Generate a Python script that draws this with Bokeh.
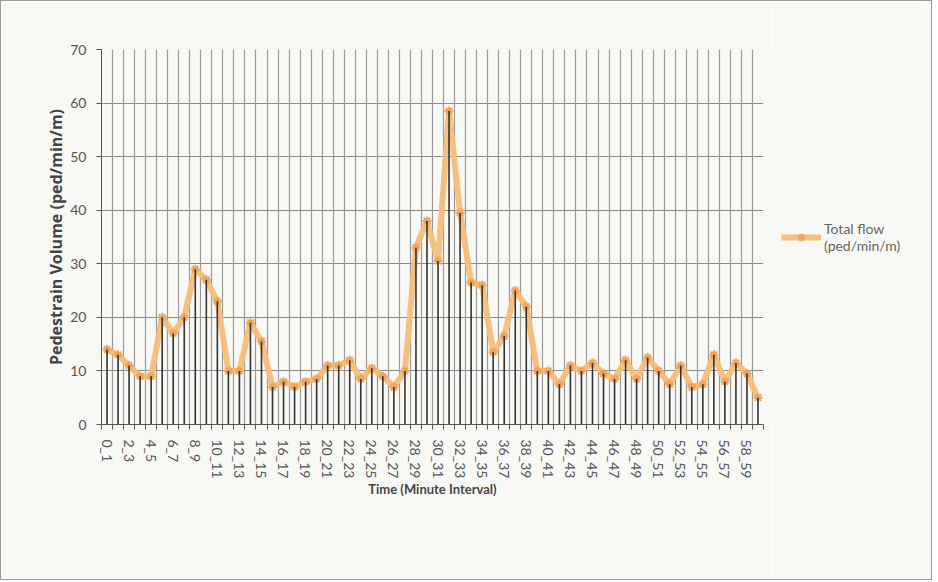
from bokeh.plotting import figure
from bokeh.layouts import row
from bokeh.models import FixedTicker, Grid, Legend, LegendItem, ColumnDataSource
from bokeh.embed import file_html
from bokeh.resources import INLINE

categories = [f"{i}_{i+1}" for i in range(60)]
flow = [14, 13, 11, 9, 9, 20, 17, 20, 29, 27,
        23, 10, 10, 19, 15.5, 7, 8, 7, 8, 8.5,
        11, 11, 12, 8.5, 10.5, 9, 7, 10, 33, 38,
        30.5, 58.5, 39.5, 26.5, 26, 13.5, 16.5, 25, 22, 10,
        10, 7.5, 11, 10, 11.5, 9.5, 8.5, 12, 8.5, 12.5,
        10, 7.5, 11, 7, 7.5, 13, 8, 11.5, 9.5, 5]
y_ticks = [0, 10, 20, 30, 40, 50, 60, 70]
series_name = "Total flow\n(ped/min/m)"

idx = list(range(len(categories)))
zeros = [0] * len(categories)
src = ColumnDataSource(dict(x=idx, y=flow, y0=zeros))

BG = "#f8f8f5"
FONT = "Lato"
LINE_COLOR = "#f6bd78"
MARK_COLOR = "#eea45a"

p = figure(width=770, height=578, output_backend="svg", toolbar_location=None,
           x_range=(-0.5, len(categories) - 0.5), y_range=(0, 70),
           min_border_left=100, min_border_right=8, min_border_top=48, min_border_bottom=155,
           background_fill_color=BG, border_fill_color=BG)
p.outline_line_color = None

# axes
p.xaxis.ticker = FixedTicker(ticks=idx[::2], minor_ticks=[i - 0.5 for i in idx] + [len(idx) - 0.5])
p.xaxis.major_label_overrides = {i: categories[i] for i in idx[::2]}
p.xaxis.major_label_orientation = "vertical"
p.xaxis.major_tick_line_color = None
p.xaxis.major_tick_out = 5
p.xaxis.minor_tick_out = 5
p.xaxis.minor_tick_in = 0
p.xaxis.minor_tick_line_color = "#555555"
p.xaxis.axis_line_color = "#555555"
p.xaxis.major_label_standoff = 10
p.xaxis.major_label_text_font = FONT
p.xaxis.major_label_text_font_size = "14px"
p.xaxis.major_label_text_color = "#555555"
p.xaxis.axis_label = "Time (Minute Interval)"
p.xaxis.axis_label_text_font = FONT
p.xaxis.axis_label_text_font_style = "bold"
p.xaxis.axis_label_text_font_size = "13px"
p.xaxis.axis_label_text_color = "#444444"
p.xaxis.axis_label_standoff = 0

p.yaxis.ticker = FixedTicker(ticks=y_ticks)
p.yaxis.minor_tick_line_color = None
p.yaxis.major_tick_out = 5
p.yaxis.major_tick_in = 0
p.yaxis.major_tick_line_color = "#555555"
p.yaxis.axis_line_color = "#555555"
p.yaxis.major_label_standoff = 10
p.yaxis.major_label_text_font = FONT
p.yaxis.major_label_text_font_size = "14px"
p.yaxis.major_label_text_color = "#555555"
p.yaxis.axis_label = "Pedestrain Volume (ped/min/m)"
p.yaxis.axis_label_text_font = "Open Sans"
p.yaxis.axis_label_text_font_style = "bold"
p.yaxis.axis_label_text_font_size = "16px"
p.yaxis.axis_label_text_color = "#444444"
p.yaxis.axis_label_standoff = 0

# grids
p.xgrid.visible = False
p.ygrid.grid_line_color = "#8a8a8a"
p.ygrid.grid_line_width = 1.2
vgrid = Grid(dimension=0, ticker=FixedTicker(ticks=[i - 0.5 for i in idx] + [len(idx) - 0.5]),
             grid_line_color="#9a9a9a", grid_line_width=1.2)
p.add_layout(vgrid)

# series
p.line("x", "y", source=src, line_color=LINE_COLOR, line_width=6, line_alpha=0.95)
p.scatter("x", "y", source=src, marker="asterisk", size=9, line_color=MARK_COLOR, line_width=2)
p.segment("x", "y0", "x", "y", source=src, line_color="#333333", line_width=1.6)

# legend panel (dummy renderers lie outside the visible range; only their legend swatch shows)
q = figure(width=160, height=578, output_backend="svg", toolbar_location=None,
           x_range=(0, 1), y_range=(0, 1),
           min_border_left=0, min_border_right=0, min_border_top=0, min_border_bottom=92,
           background_fill_color=BG, border_fill_color=BG)
q.outline_line_color = None
q.axis.visible = False
q.grid.visible = False
hidden = ColumnDataSource(dict(x=[5, 6], y=[5, 6]))
lg_line = q.line("x", "y", source=hidden, line_color=LINE_COLOR, line_width=6, line_alpha=0.95)
lg_mark = q.scatter("x", "y", source=hidden, marker="asterisk", size=9,
                    line_color=MARK_COLOR, line_width=2)
legend = Legend(items=[LegendItem(label=series_name, renderers=[lg_line, lg_mark])],
                location="left", background_fill_alpha=0, border_line_color=None,
                label_text_font=FONT, label_text_font_size="14px", label_text_color="#666666",
                glyph_width=40, label_standoff=3, padding=0, spacing=0, margin=10)
q.add_layout(legend)

layout = row(p, q)
layout.styles = {"border": "1px solid #999999"}

open("out.html", "w").write(file_html(layout, INLINE))
